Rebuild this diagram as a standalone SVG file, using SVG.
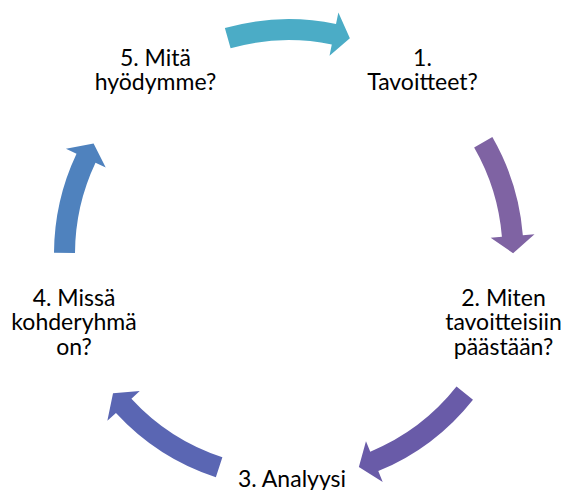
<svg xmlns="http://www.w3.org/2000/svg" width="563" height="490" viewBox="0 0 563 490">
<style>
.t{font-family:Lato,"Liberation Sans",sans-serif;font-size:23px;fill:#000;text-anchor:middle}
</style>
<rect width="563" height="490" fill="#fff"/>
<g id="connectors">
<path id="arrow-5-1" fill="#4BACC6" d="M224.87,28.07 A234.8,234.8 0 0 1 336.01,24.0 L338.37,12.53 L349.87,38.17 L329.52,55.64 L331.79,44.57 A213.8,213.8 0 0 0 230.59,48.28 Z"/>
<path id="arrow-1-2" fill="#7F63A3" d="M492.35,136.95 A234.8,234.8 0 0 1 522.84,235.17 L534.51,234.23 L513.1,253.22 L490.65,237.76 L501.91,236.85 A213.8,213.8 0 0 0 474.14,147.42 Z"/>
<path id="arrow-2-3" fill="#695BA8" d="M472.98,399.63 A234.8,234.8 0 0 1 378.28,471.08 L382.73,481.9 L358.86,467.08 L365.97,441.22 L370.27,451.67 A213.8,213.8 0 0 0 456.51,386.61 Z"/>
<path id="arrow-3-4" fill="#5A66B3" d="M215.85,477.18 A234.8,234.8 0 0 1 115.96,412.93 L107.35,420.85 L113.02,393.32 L139.74,391.07 L131.42,398.72 A213.8,213.8 0 0 0 222.38,457.22 Z"/>
<path id="arrow-4-5" fill="#4F82BE" d="M54.0,252.77 A234.8,234.8 0 0 1 76.52,153.66 L65.94,148.66 L93.58,143.55 L105.72,167.46 L95.51,162.63 A213.8,213.8 0 0 0 75.0,252.88 Z"/>
</g>
<g id="node-1"><text class="t" x="422.5" y="65.5">1.</text><text class="t" x="422.5" y="90">Tavoitteet?</text></g>
<g id="node-2"><text class="t" x="503.5" y="305.8">2. Miten</text><text class="t" x="503.5" y="330.3">tavoitteisiin</text><text class="t" x="503.5" y="354.8">päästään?</text></g>
<g id="node-3"><text class="t" x="292" y="486.5">3. Analyysi</text></g>
<g id="node-4"><text class="t" x="74" y="305.8">4. Missä</text><text class="t" x="74" y="330.3">kohderyhmä</text><text class="t" x="74" y="354.8">on?</text></g>
<g id="node-5"><text class="t" x="155.5" y="65.5">5. Mitä</text><text class="t" x="155.5" y="90">hyödymme?</text></g>
</svg>
